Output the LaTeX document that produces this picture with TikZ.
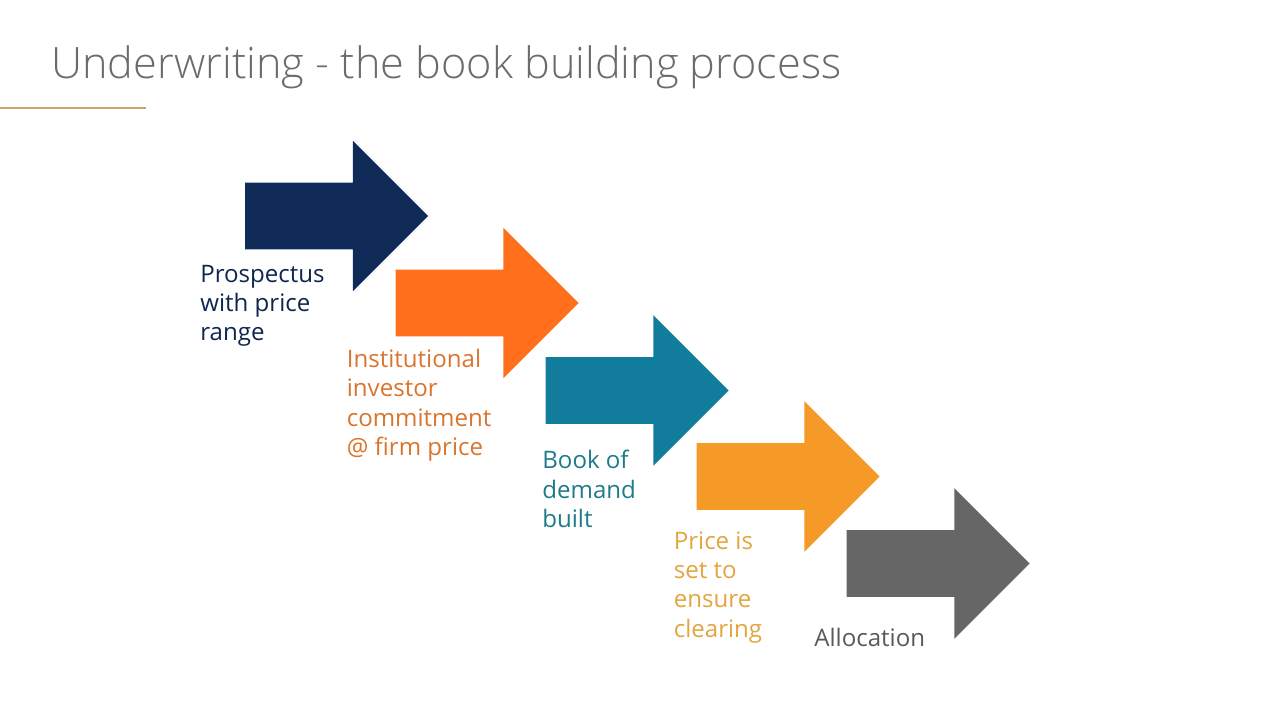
\documentclass[tikz,border=0pt]{standalone}
\usepackage{xcolor}
\usepackage{fontspec}
\setmainfont{Open Sans}
\newfontfamily\titlefont{Open Sans Light}
\usepackage{tikz}
\usetikzlibrary{shapes.arrows}

\definecolor{navyblue}{HTML}{112B58}
\definecolor{brightorange}{HTML}{FF6F1C}
\definecolor{tealblue}{HTML}{127C9C}
\definecolor{amber}{HTML}{F59A27}
\definecolor{darkgray}{HTML}{666666}

\begin{document}
\begin{tikzpicture}[
  stagearrow/.style={single arrow, draw=none, inner sep=0pt, text height=1.32cm, text depth=0cm, minimum height=3.66cm, minimum width=3cm, single arrow head extend=0.84cm, single arrow tip angle=90},
  stagelabel/.style={anchor=north west, inner sep=0pt, align=left, font=\fontsize{13.7}{16.7}\selectfont}
]
\useasboundingbox (0,0) rectangle (25.6,-14.4);

% Title
\node[anchor=base west, inner sep=0pt, text=black!58, font=\titlefont\fontsize{24.6}{30}\selectfont] (title) at (1.02,-1.56) {Underwriting - the book building process};
\coordinate (rulestart) at (0,-2.16);
\coordinate (ruleend) at (2.92,-2.16);
\draw[color={rgb,255:red,205;green,165;blue,105}, line width=0.6pt] (rulestart) -- (ruleend);

% Arrows
\node[stagearrow, fill=navyblue] (prospectus) at (6.4,-4.32) {};
\node[stagearrow, fill=brightorange] (institutional) at (9.41,-6.06) {};
\node[stagearrow, fill=tealblue] (book) at (12.41,-7.81) {};
\node[stagearrow, fill=amber] (price) at (15.43,-9.53) {};
\node[stagearrow, fill=darkgray] (allocation) at (18.43,-11.27) {};

% Labels
\node[stagelabel, text=navyblue!90!black] (prospectuslabel) at (4,-5.29) {Prospectus\\with price\\range};
\node[stagelabel, text={rgb,255:red,217;green,117;blue,47}] (institutionallabel) at (6.93,-6.98) {Institutional\\investor\\commitment\\@ firm price};
\node[stagelabel, text={rgb,255:red,31;green,123;blue,138}] (booklabel) at (10.84,-9.0) {Book of\\demand\\built};
\node[stagelabel, text={rgb,255:red,227;green,165;blue,63}] (pricelabel) at (13.47,-10.62) {Price is\\set to\\ensure\\clearing};
\node[stagelabel, text=black!65] (allocationlabel) at (16.28,-12.55) {Allocation};

\end{tikzpicture}
\end{document}
